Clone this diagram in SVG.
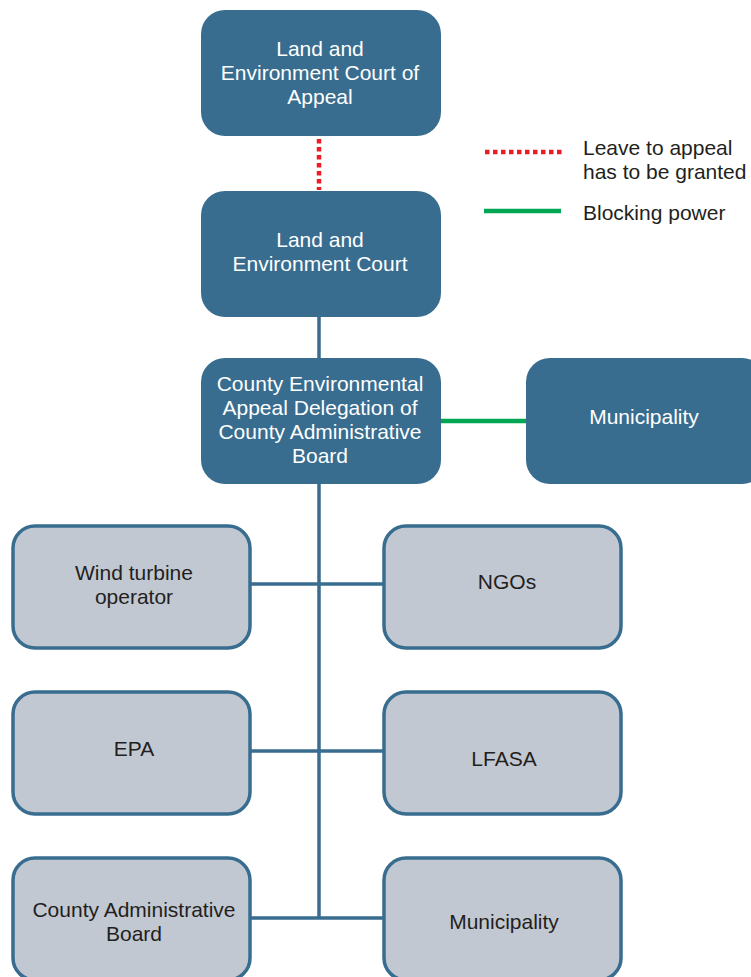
<svg xmlns="http://www.w3.org/2000/svg" width="751" height="977" viewBox="0 0 751 977">
<style>
.dark{fill:#386d8f;}
.gray{fill:#c2c8d2;stroke:#386d8f;stroke-width:3.5;}
.wt{fill:#ffffff;font-family:"Liberation Sans",Arial,sans-serif;font-size:21px;text-anchor:middle;}
.bt{fill:#231f20;font-family:"Liberation Sans",Arial,sans-serif;font-size:21px;text-anchor:middle;}
.lt{fill:#231f20;font-family:"Liberation Sans",Arial,sans-serif;font-size:21px;}
.conn{stroke:#386d8f;stroke-width:3.5;fill:none;}
.red{stroke:#ed1c24;stroke-width:4.5;stroke-dasharray:4.5 3.5;fill:none;}
.green{stroke:#00a651;stroke-width:4.5;fill:none;}
</style>
<rect width="751" height="977" fill="#ffffff"/>
<g id="connectors">
<line class="red" x1="319" y1="139" x2="319" y2="190"/>
<line class="conn" x1="319" y1="317" x2="319" y2="358"/>
<line class="conn" x1="319" y1="484" x2="319" y2="918"/>
<line class="green" x1="441" y1="421" x2="526" y2="421"/>
<line class="conn" x1="250" y1="584" x2="384" y2="584"/>
<line class="conn" x1="250" y1="751" x2="384" y2="751"/>
<line class="conn" x1="250" y1="918" x2="384" y2="918"/>
</g>
<g id="legend">
<line class="red" x1="485" y1="152" x2="563" y2="152"/>
<text class="lt" x="583" y="155">Leave to appeal</text>
<text class="lt" x="583" y="179">has to be granted</text>
<line class="green" x1="484" y1="211" x2="561" y2="211"/>
<text class="lt" x="583" y="220">Blocking power</text>
</g>
<g id="court-of-appeal">
<rect class="dark" x="201" y="10" width="240" height="126" rx="24"/>
<text class="wt" x="320" y="56">Land and</text>
<text class="wt" x="320" y="80">Environment Court of</text>
<text class="wt" x="320" y="104">Appeal</text>
</g>
<g id="land-env-court">
<rect class="dark" x="201" y="191" width="240" height="126" rx="24"/>
<text class="wt" x="320" y="247">Land and</text>
<text class="wt" x="320" y="271">Environment Court</text>
</g>
<g id="county-delegation">
<rect class="dark" x="201" y="358" width="240" height="126" rx="24"/>
<text class="wt" x="320" y="391">County Environmental</text>
<text class="wt" x="320" y="415">Appeal Delegation of</text>
<text class="wt" x="320" y="439">County Administrative</text>
<text class="wt" x="320" y="463">Board</text>
</g>
<g id="municipality-top">
<rect class="dark" x="526" y="358" width="240" height="126" rx="24"/>
<text class="wt" x="644" y="424">Municipality</text>
</g>
<g id="wind-operator">
<rect class="gray" x="13" y="526" width="237" height="122" rx="22"/>
<text class="bt" x="134" y="580">Wind turbine</text>
<text class="bt" x="134" y="604">operator</text>
</g>
<g id="ngos">
<rect class="gray" x="384" y="526" width="237" height="122" rx="22"/>
<text class="bt" x="507" y="589">NGOs</text>
</g>
<g id="epa">
<rect class="gray" x="13" y="692" width="237" height="122" rx="22"/>
<text class="bt" x="134" y="756">EPA</text>
</g>
<g id="lfasa">
<rect class="gray" x="384" y="692" width="237" height="122" rx="22"/>
<text class="bt" x="504" y="766">LFASA</text>
</g>
<g id="county-admin-board">
<rect class="gray" x="13" y="858" width="237" height="122" rx="22"/>
<text class="bt" x="134" y="917">County Administrative</text>
<text class="bt" x="134" y="941">Board</text>
</g>
<g id="municipality-bottom">
<rect class="gray" x="384" y="858" width="237" height="122" rx="22"/>
<text class="bt" x="504" y="929">Municipality</text>
</g>
</svg>
